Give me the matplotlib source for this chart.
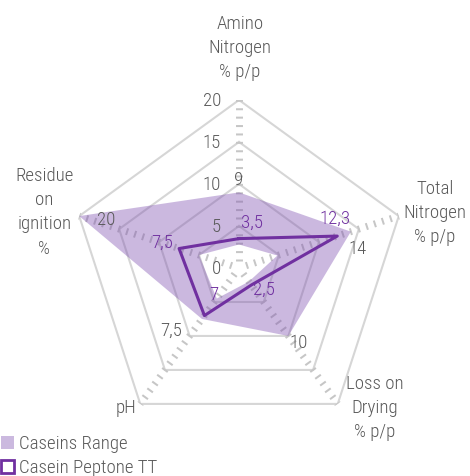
import numpy as np
import matplotlib
matplotlib.use("Agg")
import matplotlib.pyplot as plt
from matplotlib.path import Path
from matplotlib.patches import PathPatch, Patch
from matplotlib import font_manager

# data
axes_labels = ["Amino\nNitrogen\n% p/p", "Total\nNitrogen\n% p/p", "Loss on\nDrying\n% p/p", "pH", "Residue\non\nignition\n%"]
range_max = [9, 14, 10, 7.5, 20]
range_min = [2.8, 4.8, 2, 4.5, 5]
peptone = [3.5, 12.3, 2.5, 7, 7.5]
range_max_txt = ["9", "14", "10", "7,5", "20"]
peptone_txt = ["3,5", "12,3", "2,5", "7", "7,5"]
ticks = [0, 5, 10, 15, 20]

# pick a narrow font if one is installed
fam, stretch = "Roboto", "normal"
narrow = ["Liberation Sans Narrow", "Roboto Condensed", "Open Sans Condensed", "Arial Narrow"]
for f in font_manager.fontManager.ttflist:
    if f.name in narrow:
        fam = f.name
        break
else:
    for f in font_manager.fontManager.ttflist:
        st = f.stretch
        cond = (isinstance(st, str) and "condensed" in st) or (isinstance(st, (int, float)) and st < 500)
        if cond and f.name in ("DejaVu Sans", "Noto Sans", "Open Sans", "Roboto", "Liberation Sans"):
            fam, stretch = f.name, "condensed"
            break
plt.rcParams['font.family'] = [fam, "DejaVu Sans"]
plt.rcParams['font.stretch'] = stretch
plt.rcParams['font.weight'] = 300
plt.rcParams['lines.scale_dashes'] = False

gray_txt = "#595959"
purple = "#7030a0"

fig = plt.figure(figsize=(4.70, 4.76), dpi=100)

# size the font so that the legend text is as wide as in the reference
probe = fig.text(0, 0, "Caseins Range", fontsize=14)
w = probe.get_window_extent(renderer=fig.canvas.get_renderer()).width
probe.remove()
fs = 14 * 109 / w
ls = 27 / (fs * 100 / 72) / 0.98

ax = fig.add_axes([71/470, 40/476, 336/470, 336/476], projection='polar')
ax.set_theta_offset(np.pi/2)
ax.set_theta_direction(-1)
ax.set_ylim(0, 20)
ax.grid(False)
ax.set_xticks([])
ax.set_yticks([])
ax.spines['polar'].set_visible(False)
ax.patch.set_alpha(0)

n = len(axes_labels)
theta = np.arange(n) * 2*np.pi/n
th_c = np.append(theta, theta[0])

# pentagon gridlines
for v in ticks[1:]:
    ax.plot(th_c, [v]*(n+1), color="#d6d6d6", lw=1.5, zorder=1)

# dashed spokes (tick marks every unit)
for t in theta:
    ax.plot([t, t], [1 - 1/8.4, 20.2], color="#c6c6c6", lw=5,
            dashes=(1.45, 4.6), solid_capstyle='butt', zorder=1.5)

# caseins range band
outer = list(zip(th_c, np.append(range_max, range_max[0])))
inner = list(zip(th_c[::-1], np.append(range_min, range_min[0])[::-1]))
verts = outer + inner
codes = [Path.MOVETO] + [Path.LINETO]*(n) + [Path.MOVETO] + [Path.LINETO]*(n)
band = PathPatch(Path(verts, codes), facecolor="#7e4fb0", alpha=0.4, edgecolor='none', zorder=2)
ax.add_patch(band)

# casein peptone line
ax.plot(th_c, np.append(peptone, peptone[0]), color=purple, lw=2.2, zorder=3)

# tick labels on first axis
for v in ticks:
    ax.annotate(str(v), xy=(0, v), xytext=(-18, -1), textcoords='offset pixels',
                ha='right', va='center', color=gray_txt, fontsize=fs)

# data labels
max_off = [(0, 12), (7, -17), (10, -7), (-31, -12), (27, -4)]
for t, v, s, o in zip(theta, range_max, range_max_txt, max_off):
    ax.annotate(s, xy=(t, v), xytext=o, textcoords='offset pixels',
                ha='center', va='center', color=gray_txt, fontsize=fs)
pep_off = [(13, 16), (-2, 17), (13, -5), (9, 21), (-17, 6)]
for t, v, s, o in zip(theta, peptone, peptone_txt, pep_off):
    ax.annotate(s, xy=(t, v), xytext=o, textcoords='offset pixels',
                ha='center', va='center', color=purple, fontsize=fs)

# category labels
cat_off = [(1, 52), (36, 3), (37, -4), (-14, -4), (-35, 4)]
for t, s, o in zip(theta, axes_labels, cat_off):
    ax.annotate(s, xy=(t, 20), xytext=o, textcoords='offset pixels',
                ha='center', va='center', multialignment='center',
                color=gray_txt, fontsize=fs, linespacing=ls)

handles = [Patch(facecolor="#cbb9df", edgecolor='none', label="Caseins Range"),
           Patch(facecolor='white', edgecolor=purple, linewidth=2, label="Casein Peptone TT")]
leg = fig.legend(handles=handles, loc='lower left', bbox_to_anchor=(-0.004, -0.008),
                 frameon=False, fontsize=fs, handlelength=0.7, handleheight=0.7,
                 handletextpad=0.25, labelspacing=0.3, borderaxespad=0.05, borderpad=0.1)
for t in leg.get_texts():
    t.set_color(gray_txt)

fig.savefig("out.png", dpi=100)
